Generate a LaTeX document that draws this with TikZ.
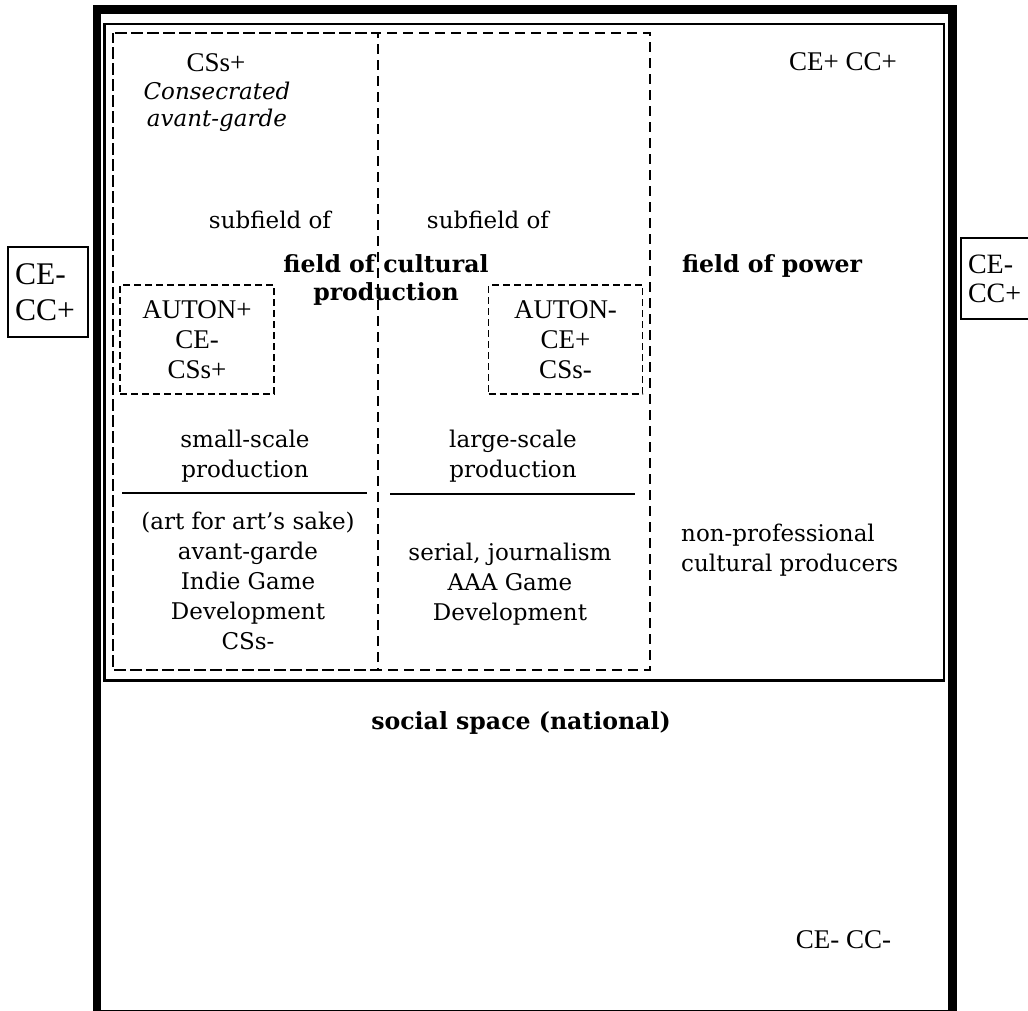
\documentclass[tikz,border=0pt]{standalone}
\usepackage{fontspec}
\setmainfont{DejaVu Serif}
\newfontfamily\tnr{Liberation Serif}
\begin{document}
\begin{tikzpicture}[x=1bp,y=-1bp,
  body/.style={font=\fontsize{23bp}{30bp}\selectfont, inner sep=0pt, align=center},
  bodyit/.style={font=\fontsize{23bp}{27bp}\selectfont\itshape, inner sep=0pt, align=center},
  boldt/.style={font=\fontsize{23.6bp}{28bp}\selectfont\bfseries, inner sep=0pt, align=center},
  tnrt/.style={font=\tnr\fontsize{27bp}{30bp}\selectfont, inner sep=0pt, align=center},
  smallbox/.style={draw, dash pattern=on 7bp off 4bp, line width=1.2bp, minimum width=154bp, minimum height=109bp, inner sep=0pt, align=center, font=\tnr\fontsize{27bp}{30bp}\selectfont},
  sidebox/.style={draw, line width=1.1bp, inner xsep=7bp, inner ysep=0pt, align=left},
  thickframe/.style={line width=8.2bp},
  powerframe/.style={line width=2.9bp},
  bigdash/.style={line width=2.8bp, dash pattern=on 10bp off 6bp},
  leftdash/.style={line width=2.8bp, dash pattern=on 10bp off 6bp, dash phase=2bp},
  rulefine/.style={line width=1.4bp}
]
\useasboundingbox (0,0) rectangle (1028,1011);
% frames
\draw[thickframe] (97,9.5) rectangle (952.5,1014.5);
\draw[powerframe] (104.5,24) rectangle (944,680.5);
\draw[bigdash] (113,33) rectangle (650,670);
\draw[leftdash] (113,33) rectangle (378,670);
% texts, top left
\node[tnrt, anchor=base] (csplus) at (216,71) {CSs+};
\node[bodyit] (consec) at (217,107) {Consecrated\\avant-garde};
\node[body, anchor=base] (subL) at (270,228) {subfield of};
\node[body, anchor=base] (subR) at (488,228) {subfield of};
\node[boldt] (fcp) at (386,280) {field of cultural\\production};
\node[boldt, anchor=base] (fpow) at (772,272) {field of power};
\node[tnrt, anchor=base] (ceccp) at (843,70) {CE+ CC+};
% small boxes
\node[smallbox] (autP) at (197,339.5) {AUTON+\\CE-\\CSs+};
\node[smallbox] (autM) at (565.5,339.5) {AUTON-\\CE+\\CSs-};
% production
\node[body] (ssp) at (245,456) {small-scale\\production};
\node[body] (lsp) at (513,456) {large-scale\\production};
\draw[rulefine] (122,493) -- (367,493);
\draw[rulefine] (390,494) -- (635,494);
\node[body] (listL) at (248,581) {(art for art’s sake)\\avant-garde\\Indie Game\\Development\\CSs-};
\node[body] (listR) at (510,584) {serial, journalism\\AAA Game\\Development};
\node[body, align=left, anchor=west] (nonpro) at (681,550) {non-professional\\cultural producers};
\node[boldt, anchor=base] (social) at (521,729) {social space (national)};
\node[tnrt, anchor=base] (cecm) at (843.5,948) {CE- CC-};
% side boxes
\node[sidebox, minimum width=80bp, minimum height=90bp, text width=66bp,
      font=\tnr\fontsize{31.5bp}{36bp}\selectfont] (sideL) at (48,292) {CE-\\CC+};
\node[sidebox, minimum width=80bp, minimum height=81bp, text width=66bp, inner xsep=6bp,
      font=\tnr\fontsize{28bp}{29bp}\selectfont] (sideR) at (1001,278.5) {CE-\\CC+};
\end{tikzpicture}
\end{document}
